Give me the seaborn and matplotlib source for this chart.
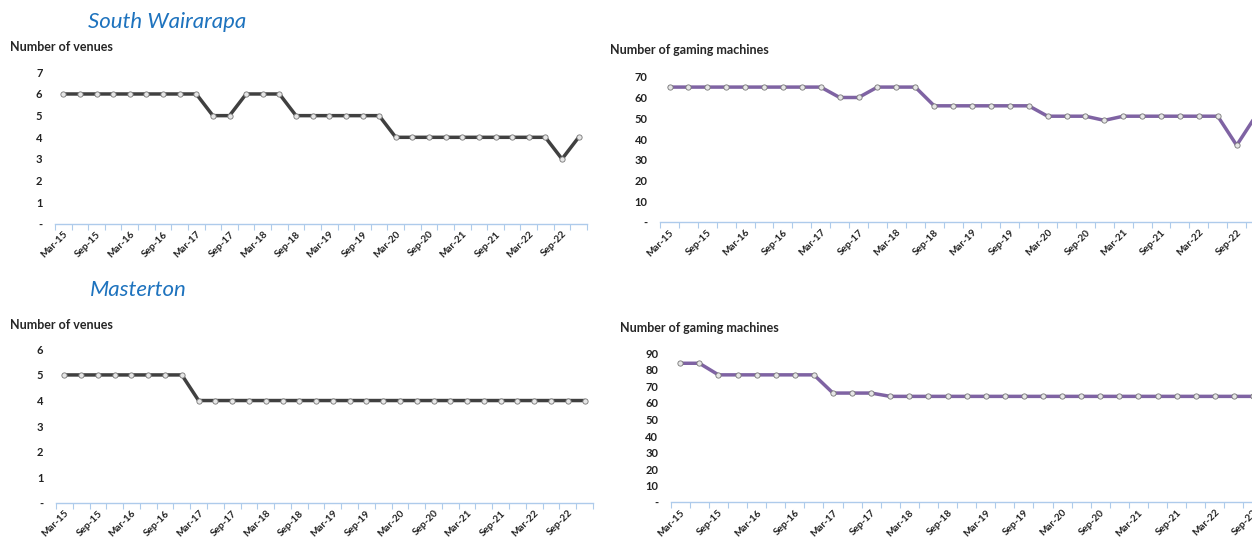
import pandas as pd
import matplotlib
matplotlib.use('Agg')
import matplotlib.pyplot as plt
import seaborn as sns
from matplotlib.ticker import FuncFormatter

# Quarterly data, Mar-15 to Dec-22
years = ['15', '16', '17', '18', '19', '20', '21', '22']
months = ['Mar', 'Jun', 'Sep', 'Dec']
quarters = [m + '-' + y for y in years for m in months]

sw_venues = [6, 6, 6, 6, 6, 6, 6, 6, 6, 5, 5, 6, 6, 6, 5, 5,
             5, 5, 5, 5, 4, 4, 4, 4, 4, 4, 4, 4, 4, 4, 3, 4]
sw_machines = [65, 65, 65, 65, 65, 65, 65, 65, 65, 60, 60, 65, 65, 65, 56, 56,
               56, 56, 56, 56, 51, 51, 51, 49, 51, 51, 51, 51, 51, 51, 37, 51]
ms_venues = [5, 5, 5, 5, 5, 5, 5, 5, 4, 4, 4, 4, 4, 4, 4, 4,
             4, 4, 4, 4, 4, 4, 4, 4, 4, 4, 4, 4, 4, 4, 4, 4]
ms_machines = [84, 84, 77, 77, 77, 77, 77, 77, 66, 66, 66, 64, 64, 64, 64, 64,
               64, 64, 64, 64, 64, 64, 64, 64, 64, 64, 64, 64, 64, 64, 64, 64]

sns.set_style('white')
plt.rcParams['font.family'] = ['Lato', 'DejaVu Sans']

grey = '#404040'
purple = '#7F63A3'
axis_blue = '#AECBEB'
title_blue = '#1E73BE'

fig = plt.figure(figsize=(12.52, 5.42), dpi=100)


def excel_axis(rect, values, color, ymax, ystep):
    ax = fig.add_axes(rect)
    df = pd.DataFrame({'quarter': quarters, 'value': values})
    sns.lineplot(data=df, x='quarter', y='value', sort=False, ax=ax, color=color,
                 linewidth=2.5, marker='o', markersize=3.8,
                 markerfacecolor='#E6E6E6', markeredgecolor='#777777',
                 markeredgewidth=0.6)
    ax.set_xlim(-0.5, len(quarters) - 0.5)
    ax.set_ylim(0, ymax)
    ax.set_yticks(range(0, ymax + 1, ystep))
    ax.yaxis.set_major_formatter(FuncFormatter(lambda v, p: '-' if v == 0 else '%d' % v))
    ax.set_xticks(range(0, len(quarters), 2))
    ax.set_xticklabels(quarters[::2], rotation=45, ha='right',
                       rotation_mode='anchor', fontsize=7.2, fontweight='bold', color='#222222')
    ax.set_xticks([i - 0.5 for i in range(len(quarters) + 1)], minor=True)
    ax.tick_params(axis='x', which='major', length=0, pad=4)
    ax.tick_params(axis='x', which='minor', length=4, width=0.8, color=axis_blue, bottom=True)
    ax.tick_params(axis='y', length=0, pad=9, labelsize=8)
    for lab in ax.get_yticklabels():
        lab.set_fontweight('bold')
        lab.set_color('#222222')
    for s in ['top', 'right', 'left']:
        ax.spines[s].set_visible(False)
    ax.spines['bottom'].set_color(axis_blue)
    ax.spines['bottom'].set_linewidth(1.0)
    ax.set_xlabel('')
    ax.set_ylabel('')
    ax.patch.set_alpha(0)
    return ax


excel_axis([0.0439, 0.5867, 0.4249, 0.2799], sw_venues, grey, 7, 1)
excel_axis([0.5272, 0.5899, 0.4832, 0.2686], sw_machines, purple, 70, 10)
excel_axis([0.0447, 0.0720, 0.4289, 0.2835], ms_venues, grey, 6, 1)
excel_axis([0.5357, 0.0732, 0.4880, 0.2749], ms_machines, purple, 90, 10)

# Region headings and panel titles
fig.text(0.0703, 0.9594, 'South Wairarapa', fontsize=16, style='italic',
         color=title_blue, va='center', ha='left')
fig.text(0.0719, 0.465, 'Masterton', fontsize=16, style='italic',
         color=title_blue, va='center', ha='left')
fig.text(0.008, 0.913, 'Number of venues', fontsize=9, fontweight='bold', va='center')
fig.text(0.4872, 0.9077, 'Number of gaming machines', fontsize=9, fontweight='bold', va='center')
fig.text(0.008, 0.400, 'Number of venues', fontsize=9, fontweight='bold', va='center')
fig.text(0.4952, 0.395, 'Number of gaming machines', fontsize=9, fontweight='bold', va='center')

fig.savefig('out.png', dpi=100)
